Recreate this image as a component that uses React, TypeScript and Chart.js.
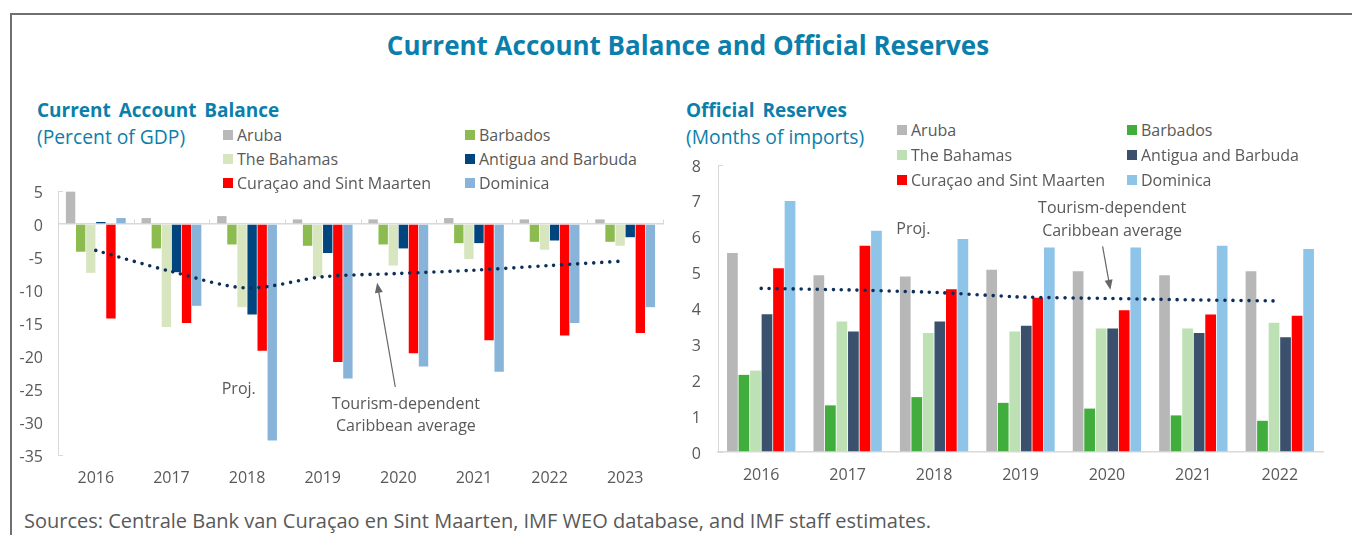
import React, { useEffect, useRef } from "react";
import { Chart, registerables } from "chart.js";

Chart.register(...registerables);

// ---------- Current Account Balance (Percent of GDP) ----------
const CA_YEARS = ["2016", "2017", "2018", "2019", "2020", "2021", "2022", "2023"];
const CA_ARUBA = [4.9, 0.9, 1.2, 0.7, 0.7, 0.9, 0.7, 0.7];
const CA_BARBADOS = [-4.2, -3.7, -3.1, -3.3, -3.1, -2.9, -2.7, -2.7];
const CA_BAHAMAS = [-7.4, -15.6, -12.6, -8.0, -6.3, -5.3, -3.9, -3.3];
const CA_ANTIGUA = [0.3, -7.3, -13.7, -4.4, -3.7, -2.9, -2.5, -2.0];
const CA_CURACAO = [-14.3, -15.0, -19.2, -20.9, -19.6, -17.6, -16.9, -16.5];
const CA_DOMINICA = [0.9, -12.4, -32.8, -23.4, -21.6, -22.4, -15.0, -12.6];
const CA_AVERAGE = [-4.0, -7.2, -9.7, -8.0, -7.5, -7.0, -6.3, -5.6];

// ---------- Official Reserves (Months of imports) ----------
const RES_YEARS = ["2016", "2017", "2018", "2019", "2020", "2021", "2022"];
const RES_ARUBA = [5.55, 4.93, 4.89, 5.08, 5.04, 4.93, 5.04];
const RES_BARBADOS = [2.15, 1.3, 1.53, 1.37, 1.21, 1.02, 0.87];
const RES_BAHAMAS = [2.27, 3.64, 3.32, 3.36, 3.44, 3.44, 3.6];
const RES_ANTIGUA = [3.84, 3.36, 3.64, 3.52, 3.44, 3.32, 3.2];
const RES_CURACAO = [5.12, 5.75, 4.54, 4.3, 3.95, 3.83, 3.8];
const RES_DOMINICA = [7.0, 6.17, 5.94, 5.7, 5.7, 5.75, 5.66];
const RES_AVERAGE = [4.56, 4.52, 4.45, 4.32, 4.28, 4.24, 4.21];

const SERIES_NAMES = [
  "Aruba",
  "Barbados",
  "The Bahamas",
  "Antigua and Barbuda",
  "Curaçao and Sint Maarten",
  "Dominica",
];
const AVERAGE_LABEL = ["Tourism-dependent", "Caribbean average"];
const PROJ_LABEL = "Proj.";

const CA_COLORS = ["#B9B9B9", "#8CBB50", "#D7E6BF", "#00457E", "#FF0000", "#88B4DA"];
const RES_COLORS = ["#B7B7B7", "#40AD3C", "#BDE1B4", "#3A506C", "#FF0000", "#8EC4E8"];

const FONT = '"Open Sans", sans-serif';
const TEXT = "#595959";
const TITLE = "#0B7FAB";
const AXIS = "#D9D9D9";
const DOTS = "#0E2F5C";

type Ann = {
  texts: { t: string; x: number; y: number }[];
  arrow: { x1: number; y1: number; x2: number; y2: number };
  zeroTicks: boolean;
};

function makeDecor(cfg: Ann) {
  return {
    id: "decor",
    afterDatasetsDraw(chart: any) {
      const { ctx } = chart;
      const x = chart.scales.x;
      const y = chart.scales.y;
      ctx.save();
      ctx.strokeStyle = AXIS;
      ctx.lineWidth = 1;
      [y.top, y.bottom].forEach((py: number) => {
        const p = Math.round(py) + 0.5;
        ctx.beginPath();
        ctx.moveTo(x.left, p);
        ctx.lineTo(x.left + 5, p);
        ctx.stroke();
      });
      if (cfg.zeroTicks) {
        const z = Math.round(y.getPixelForValue(0)) + 0.5;
        const n = x.ticks.length;
        for (let i = 1; i <= n; i++) {
          const bx =
            i < n ? (x.getPixelForValue(i - 1) + x.getPixelForValue(i)) / 2 : x.right;
          const px = Math.round(bx) + 0.5;
          ctx.beginPath();
          ctx.moveTo(px, z);
          ctx.lineTo(px, z - 5);
          ctx.stroke();
        }
      }
      ctx.fillStyle = TEXT;
      ctx.font = "16px " + FONT;
      ctx.textAlign = "center";
      ctx.textBaseline = "middle";
      cfg.texts.forEach((t) => {
        ctx.fillText(t.t, x.getPixelForValue(t.x), y.getPixelForValue(t.y));
      });
      const a = cfg.arrow;
      const x1 = x.getPixelForValue(a.x1);
      const y1 = y.getPixelForValue(a.y1);
      const x2 = x.getPixelForValue(a.x2);
      const y2 = y.getPixelForValue(a.y2);
      const ang = Math.atan2(y2 - y1, x2 - x1);
      const hl = 10;
      const hw = 4;
      ctx.strokeStyle = "#666666";
      ctx.fillStyle = "#666666";
      ctx.lineWidth = 1.2;
      ctx.beginPath();
      ctx.moveTo(x1, y1);
      ctx.lineTo(x2 - Math.cos(ang) * hl * 0.8, y2 - Math.sin(ang) * hl * 0.8);
      ctx.stroke();
      ctx.beginPath();
      ctx.moveTo(x2, y2);
      ctx.lineTo(
        x2 - Math.cos(ang) * hl - Math.sin(ang) * hw,
        y2 - Math.sin(ang) * hl + Math.cos(ang) * hw
      );
      ctx.lineTo(
        x2 - Math.cos(ang) * hl + Math.sin(ang) * hw,
        y2 - Math.sin(ang) * hl - Math.cos(ang) * hw
      );
      ctx.closePath();
      ctx.fill();
      ctx.restore();
    },
  };
}

function buildConfig(opts: {
  labels: string[];
  series: number[][];
  colors: string[];
  average: number[];
  min: number;
  max: number;
  step: number;
  padTop: number;
  padRight: number;
  xHeight: number;
  yLabelPad: number;
  zeroAxis: boolean;
  tension: number;
  ann: Ann;
}) {
  const bars = opts.series.map((d, i) => ({
    type: "bar" as const,
    label: SERIES_NAMES[i],
    data: d,
    backgroundColor: opts.colors[i],
    borderWidth: 0,
    categoryPercentage: 0.8,
    barPercentage: 0.93,
    order: 1,
  }));
  const line = {
    type: "line" as const,
    label: "Tourism-dependent Caribbean average",
    data: opts.average,
    borderColor: DOTS,
    borderWidth: 3.6,
    borderDash: [0, 8],
    borderCapStyle: "round" as const,
    pointRadius: 0,
    fill: false,
    tension: opts.tension,
    order: 0,
  };
  const zeroPad = (s: any) => {
    s.paddingTop = 0;
    s.paddingBottom = 0;
    s.paddingLeft = 0;
    s.paddingRight = 0;
  };
  return {
    type: "bar" as const,
    data: { labels: opts.labels, datasets: [...bars, line] },
    plugins: [makeDecor(opts.ann)],
    options: {
      responsive: false,
      animation: false as const,
      devicePixelRatio: 1,
      layout: {
        autoPadding: false,
        padding: { top: opts.padTop, right: opts.padRight, left: 0, bottom: 0 },
      },
      plugins: { legend: { display: false }, tooltip: { enabled: false }, title: { display: false } },
      scales: {
        x: {
          grid: { display: false, drawTicks: false },
          border: { display: !opts.zeroAxis, color: AXIS, width: 1.5 },
          ticks: { color: TEXT, font: { family: FONT, size: 16 }, padding: 14 },
          afterFit: (s: any) => {
            s.height = opts.xHeight;
            zeroPad(s);
          },
        },
        y: {
          min: opts.min,
          max: opts.max,
          ticks: {
            stepSize: opts.step,
            color: TEXT,
            font: { family: FONT, size: 16 },
            padding: opts.yLabelPad,
            labelOffset: 2,
          },
          grid: {
            drawTicks: false,
            color: (c: any) =>
              opts.zeroAxis && c.tick && c.tick.value === 0 ? AXIS : "rgba(0,0,0,0)",
            lineWidth: 1.5,
          },
          border: { display: true, color: AXIS, width: 1 },
          afterFit: (s: any) => {
            s.width = 58;
            zeroPad(s);
          },
        },
      },
    },
  };
}

function ChartCanvas(props: { config: any; left: number; top: number; width: number; height: number }) {
  const ref = useRef<HTMLCanvasElement | null>(null);
  useEffect(() => {
    if (!ref.current) return;
    const chart = new Chart(ref.current, props.config);
    return () => chart.destroy();
  }, []);
  return (
    <canvas
      ref={ref}
      width={props.width}
      height={props.height}
      style={{
        position: "absolute",
        left: props.left,
        top: props.top,
        width: props.width,
        height: props.height,
      }}
    />
  );
}

function Legend(props: { colors: string[]; left: number; col2: number; top: number; gap: number }) {
  return (
    <>
      {SERIES_NAMES.map((name, i) => {
        const col = i % 2;
        const row = Math.floor(i / 2);
        return (
          <div
            key={name}
            style={{
              position: "absolute",
              left: col === 0 ? props.left : props.col2,
              top: props.top + row * props.gap - 11,
              height: 22,
              display: "flex",
              alignItems: "center",
              fontSize: 16,
              color: TEXT,
              whiteSpace: "nowrap",
              zIndex: 2,
            }}
          >
            <span
              style={{
                display: "inline-block",
                width: 10,
                height: 10,
                background: props.colors[i],
                marginRight: 4,
              }}
            />
            {name}
          </div>
        );
      })}
    </>
  );
}

const caConfig = buildConfig({
  labels: CA_YEARS,
  series: [CA_ARUBA, CA_BARBADOS, CA_BAHAMAS, CA_ANTIGUA, CA_CURACAO, CA_DOMINICA],
  colors: CA_COLORS,
  average: CA_AVERAGE,
  min: -35,
  max: 5,
  step: 5,
  padTop: 21,
  padRight: 12,
  xHeight: 40,
  yLabelPad: 15,
  zeroAxis: true,
  tension: 0.3,
  ann: {
    texts: [
      { t: PROJ_LABEL, x: 1.89, y: -25 },
      { t: AVERAGE_LABEL[0], x: 4.1, y: -27.3 },
      { t: AVERAGE_LABEL[1], x: 4.1, y: -30.6 },
    ],
    arrow: { x1: 3.96, y1: -24.7, x2: 3.72, y2: -8.9 },
    zeroTicks: true,
  },
});

const resConfig = buildConfig({
  labels: RES_YEARS,
  series: [RES_ARUBA, RES_BARBADOS, RES_BAHAMAS, RES_ANTIGUA, RES_CURACAO, RES_DOMINICA],
  colors: RES_COLORS,
  average: RES_AVERAGE,
  min: 0,
  max: 8,
  step: 1,
  padTop: 20,
  padRight: 17,
  xHeight: 43,
  yLabelPad: 17,
  zeroAxis: false,
  tension: 0.15,
  ann: {
    texts: [
      { t: PROJ_LABEL, x: 1.76, y: 6.21 },
      { t: AVERAGE_LABEL[0], x: 4.06, y: 6.78 },
      { t: AVERAGE_LABEL[1], x: 4.06, y: 6.15 },
    ],
    arrow: { x1: 3.95, y1: 5.73, x2: 4.04, y2: 4.52 },
    zeroTicks: false,
  },
});

export default function App() {
  const abs = (left: number, top: number, extra: any = {}) => ({
    position: "absolute" as const,
    left,
    top,
    whiteSpace: "nowrap" as const,
    lineHeight: "26px",
    transform: "translateY(-50%)",
    ...extra,
  });
  return (
    <div
      style={{
        position: "absolute",
        left: 0,
        top: 0,
        width: 1352,
        height: 535,
        overflow: "hidden",
        background: "#ffffff",
        fontFamily: FONT,
      }}
    >
      <div
        style={{
          position: "absolute",
          left: 10,
          top: 13,
          width: 1350,
          height: 530,
          borderTop: "2px solid #707070",
          borderLeft: "2px solid #707070",
        }}
      />
      <div
        style={{
          position: "absolute",
          left: 0,
          width: 1352,
          top: 45,
          transform: "translateY(-50%)",
          textAlign: "center",
          fontSize: 26,
          fontWeight: 700,
          color: TITLE,
          lineHeight: "32px",
          paddingLeft: 24,
          boxSizing: "border-box",
        }}
      >
        Current Account Balance and Official Reserves
      </div>

      <div style={abs(37, 110, { fontSize: 19, fontWeight: 700, color: TITLE, wordSpacing: 3 })}>
        Current Account Balance
      </div>
      <div style={abs(37, 137, { fontSize: 19.3, color: TITLE })}>(Percent of GDP)</div>

      <div style={abs(686, 110, { fontSize: 19, fontWeight: 700, color: TITLE, wordSpacing: 3 })}>
        Official Reserves
      </div>
      <div style={abs(686, 137, { fontSize: 19.3, color: TITLE })}>(Months of imports)</div>

      <ChartCanvas config={caConfig} left={0} top={170} width={675} height={325} />
      <ChartCanvas config={resConfig} left={660} top={145} width={680} height={350} />

      <Legend colors={CA_COLORS} left={223} col2={465} top={135} gap={24} />
      <Legend colors={RES_COLORS} left={897} col2={1127} top={130} gap={25} />

      <div style={abs(24, 521, { fontSize: 20, color: TEXT })}>
        Sources: Centrale Bank van Curaçao en Sint Maarten, IMF WEO database, and IMF staff estimates.
      </div>
    </div>
  );
}
